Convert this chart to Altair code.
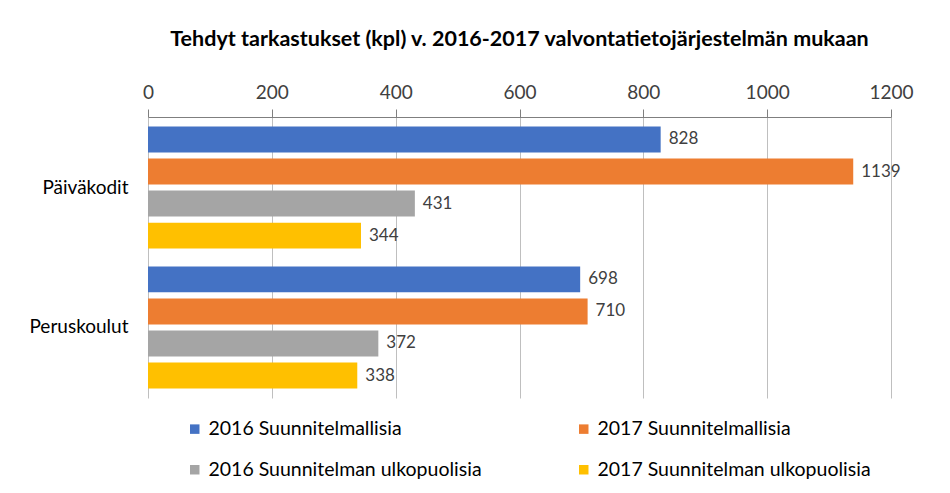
import altair as alt
import pandas as pd

categories = ["Päiväkodit", "Peruskoulut"]
series = ["2016 Suunnitelmallisia", "2017 Suunnitelmallisia",
          "2016 Suunnitelman ulkopuolisia", "2017 Suunnitelman ulkopuolisia"]
values_paivakodit = [828, 1139, 431, 344]
values_peruskoulut = [698, 710, 372, 338]
colors = ["#4472C4", "#ED7D31", "#A5A5A5", "#FFC000"]
x_ticks = [0, 200, 400, 600, 800, 1000, 1200]

rows = []
for cat, vals in zip(categories, [values_paivakodit, values_peruskoulut]):
    for s, v in zip(series, vals):
        rows.append({"kategoria": cat, "sarja": s, "arvo": v})
df = pd.DataFrame(rows)

FONT = "Lato"

y_enc = alt.Y("kategoria:N", sort=categories, title=None,
              scale=alt.Scale(paddingInner=0.086, paddingOuter=0.047),
              axis=alt.Axis(labelFontSize=19, labelColor="#000000", labelFont=FONT,
                            ticks=False, domain=False, labelPadding=20))
yoff = alt.YOffset("sarja:N", sort=series,
                   scale=alt.Scale(paddingInner=0.19, paddingOuter=0.09))
x_enc = alt.X("arvo:Q", title=None,
              scale=alt.Scale(domain=[0, 1200], nice=False),
              axis=alt.Axis(orient="top", values=x_ticks, format="d", labelFontSize=19,
                            labelColor="#404040", labelFont=FONT, tickSize=8,
                            labelFlush=False,
                            tickColor="#7f7f7f", domainColor="#7f7f7f",
                            gridColor="#bfbfbf", labelPadding=7))

bars = alt.Chart(df).mark_bar().encode(
    x=x_enc, y=y_enc, yOffset=yoff,
    color=alt.Color("sarja:N", sort=series,
                    scale=alt.Scale(domain=series, range=colors),
                    legend=alt.Legend(title=None, orient="none", legendX=37, legendY=302,
                                      direction="horizontal", columns=2,
                                      columnPadding=92, rowPadding=20,
                                      symbolType="square", symbolSize=90,
                                      labelFontSize=19.5, labelFont=FONT,
                                      labelColor="#000000", labelLimit=400))
)

labels = alt.Chart(df).mark_text(align="left", baseline="middle", dx=8,
                                 fontSize=17, font=FONT, color="#404040").encode(
    x="arvo:Q", y=alt.Y("kategoria:N", sort=categories), yOffset=yoff,
    text="arvo:Q")

chart = alt.layer(bars, labels).properties(
    width=743, height=281,
    title=alt.TitleParams("Tehdyt tarkastukset (kpl) v. 2016-2017 valvontatietojärjestelmän mukaan",
                          fontSize=21.5, font=FONT, fontWeight="bold", color="#000000",
                          anchor="middle", offset=33),
    autosize=alt.AutoSizeParams(type="none"),
    padding={"left": 140, "top": 109, "right": 50, "bottom": 90},
).configure_view(stroke=None)

chart.save("out.html", embed_options={"renderer": "svg", "actions": False})
